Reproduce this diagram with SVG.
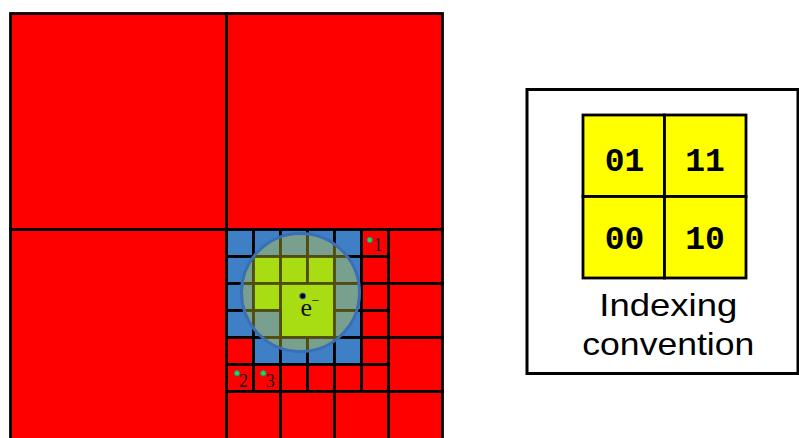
<svg xmlns="http://www.w3.org/2000/svg" width="799" height="438" viewBox="0 0 799 438">
<style>
  .c { stroke: #000; stroke-width: 2.8; }
  .r { fill: #ff0000; }
  .b { fill: #3f7fc6; }
  .g { fill: #87dc09; }
  .lbl { font-family: "Liberation Serif", serif; font-size: 18px; fill: #111; text-anchor: middle; }
  .pt { fill: #1ee61e; stroke: #3a6fb5; stroke-width: 1; }
  .idx { font-family: "Liberation Mono", monospace; font-weight: bold; font-size: 33px; fill: #000; text-anchor: middle; }
  .cap { font-family: "Liberation Sans", Arial, sans-serif; font-size: 32px; fill: #000; text-anchor: middle; }
</style>
<rect width="799" height="438" fill="#fff"/>
<g id="quadtree">
  <rect class="c r" x="10.5" y="13.5" width="216" height="216"/>
  <rect class="c r" x="226.5" y="13.5" width="216" height="216"/>
  <rect class="c r" x="10.5" y="229.5" width="216" height="216"/>
  <!-- row 0 -->
  <rect class="c b" x="226.5" y="229.5" width="27" height="27"/>
  <rect class="c b" x="253.5" y="229.5" width="27" height="27"/>
  <rect class="c b" x="280.5" y="229.5" width="27" height="27"/>
  <rect class="c b" x="307.5" y="229.5" width="27" height="27"/>
  <rect class="c b" x="334.5" y="229.5" width="27" height="27"/>
  <rect class="c r" x="361.5" y="229.5" width="27" height="27"/>
  <rect class="c r" x="388.5" y="229.5" width="54" height="54"/>
  <!-- row 1 -->
  <rect class="c b" x="226.5" y="256.5" width="27" height="27"/>
  <rect class="c g" x="253.5" y="256.5" width="27" height="27"/>
  <rect class="c g" x="280.5" y="256.5" width="27" height="27"/>
  <rect class="c g" x="307.5" y="256.5" width="27" height="27"/>
  <rect class="c b" x="334.5" y="256.5" width="27" height="27"/>
  <rect class="c r" x="361.5" y="256.5" width="27" height="27"/>
  <!-- row 2 -->
  <rect class="c b" x="226.5" y="283.5" width="27" height="27"/>
  <rect class="c g" x="253.5" y="283.5" width="27" height="27"/>
  <rect class="c g" x="280.5" y="283.5" width="54" height="54"/>
  <rect class="c b" x="334.5" y="283.5" width="27" height="27"/>
  <rect class="c r" x="361.5" y="283.5" width="27" height="27"/>
  <rect class="c r" x="388.5" y="283.5" width="54" height="54"/>
  <!-- row 3 -->
  <rect class="c b" x="226.5" y="310.5" width="27" height="27"/>
  <rect class="c b" x="253.5" y="310.5" width="27" height="27"/>
  <rect class="c b" x="334.5" y="310.5" width="27" height="27"/>
  <rect class="c r" x="361.5" y="310.5" width="27" height="27"/>
  <!-- row 4 -->
  <rect class="c r" x="226.5" y="337.5" width="27" height="27"/>
  <rect class="c b" x="253.5" y="337.5" width="27" height="27"/>
  <rect class="c b" x="280.5" y="337.5" width="27" height="27"/>
  <rect class="c b" x="307.5" y="337.5" width="27" height="27"/>
  <rect class="c b" x="334.5" y="337.5" width="27" height="27"/>
  <rect class="c r" x="361.5" y="337.5" width="27" height="27"/>
  <rect class="c r" x="388.5" y="337.5" width="54" height="54"/>
  <!-- row 5 -->
  <rect class="c r" x="226.5" y="364.5" width="27" height="27"/>
  <rect class="c r" x="253.5" y="364.5" width="27" height="27"/>
  <rect class="c r" x="280.5" y="364.5" width="27" height="27"/>
  <rect class="c r" x="307.5" y="364.5" width="27" height="27"/>
  <rect class="c r" x="334.5" y="364.5" width="27" height="27"/>
  <rect class="c r" x="361.5" y="364.5" width="27" height="27"/>
  <!-- rows 6-7 -->
  <rect class="c r" x="226.5" y="391.5" width="54" height="54"/>
  <rect class="c r" x="280.5" y="391.5" width="54" height="54"/>
  <rect class="c r" x="334.5" y="391.5" width="54" height="54"/>
  <rect class="c r" x="388.5" y="391.5" width="54" height="54"/>
</g>
<g id="circle">
  <circle cx="300.5" cy="292.5" r="59" fill="#e6dc28" fill-opacity="0.35" stroke="#3a6fb5" stroke-width="3"/>
</g>
<g id="electron">
  <circle cx="302.7" cy="296" r="3" fill="#000" stroke="#3a6fb5" stroke-width="1"/>
  <text x="300.5" y="315.5" font-family="Liberation Serif, serif" font-size="26" fill="#111">e</text>
  <text x="311.5" y="304.5" font-family="Liberation Serif, serif" font-size="14" fill="#111">−</text>
</g>
<g id="points">
  <circle class="pt" cx="369.7" cy="240" r="2.7"/>
  <text class="lbl" x="378" y="250.7">1</text>
  <circle class="pt" cx="237" cy="373.3" r="2.7"/>
  <text class="lbl" x="243.5" y="387.3">2</text>
  <circle class="pt" cx="263.3" cy="373.3" r="2.7"/>
  <text class="lbl" x="270.3" y="387.3">3</text>
</g>
<g id="legend">
  <rect x="527" y="89.5" width="271" height="284" fill="#fff" stroke="#000" stroke-width="3"/>
  <g id="cell-01"><rect class="c" x="583" y="115" width="81.5" height="81.5" fill="#ffff00" stroke-width="3"/><text class="idx" x="624.5" y="170.5">01</text></g>
  <g id="cell-11"><rect class="c" x="664.5" y="115" width="81.5" height="81.5" fill="#ffff00" stroke-width="3"/><text class="idx" x="705" y="170.5">11</text></g>
  <g id="cell-00"><rect class="c" x="583" y="196.5" width="81.5" height="81.5" fill="#ffff00" stroke-width="3"/><text class="idx" x="624.5" y="248.5">00</text></g>
  <g id="cell-10"><rect class="c" x="664.5" y="196.5" width="81.5" height="81.5" fill="#ffff00" stroke-width="3"/><text class="idx" x="705" y="248.5">10</text></g>
  <text class="cap" x="668.3" y="316" textLength="138" lengthAdjust="spacingAndGlyphs">Indexing</text>
  <text class="cap" x="668.3" y="355" textLength="172" lengthAdjust="spacingAndGlyphs">convention</text>
</g>
<g id="connectors"></g>
</svg>
